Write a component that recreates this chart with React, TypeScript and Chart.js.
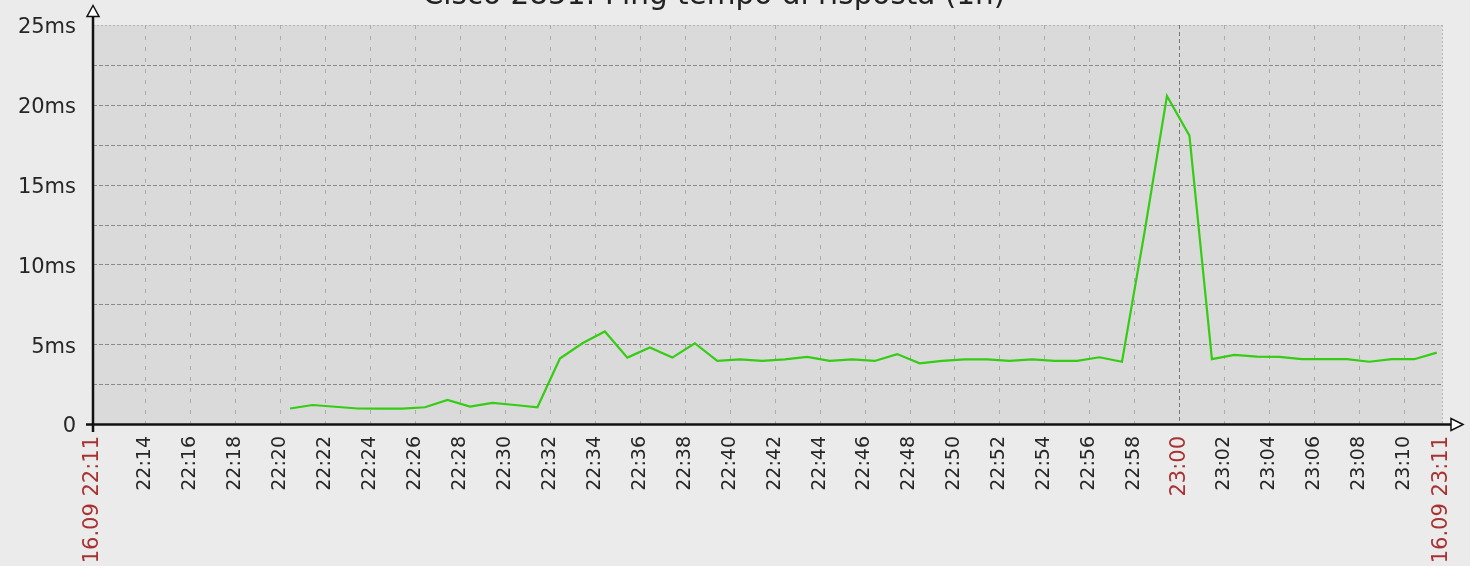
import React, { useEffect, useRef } from "react";
import { Chart, registerables } from "chart.js";

Chart.register(...registerables);

const TITLE = "Cisco 2851: Ping tempo di risposta (1h)";
const RANGE_START = "22:11:41";
const RANGE_END = "23:11:41";

const SAMPLE_TIMES = [
  "22:20:27", "22:21:27", "22:22:27", "22:23:27", "22:24:27", "22:25:27", "22:26:27", "22:27:27", "22:28:27", "22:29:27",
  "22:30:27", "22:31:27", "22:32:27", "22:33:27", "22:34:27", "22:35:27", "22:36:27", "22:37:27", "22:38:27", "22:39:27",
  "22:40:27", "22:41:27", "22:42:27", "22:43:27", "22:44:27", "22:45:27", "22:46:27", "22:47:27", "22:48:27", "22:49:27",
  "22:50:27", "22:51:27", "22:52:27", "22:53:27", "22:54:27", "22:55:27", "22:56:27", "22:57:27", "22:58:27", "22:59:27",
  "23:00:27", "23:01:27", "23:02:27", "23:03:27", "23:04:27", "23:05:27", "23:06:27", "23:07:27", "23:08:27", "23:09:27",
  "23:10:27", "23:11:27",
];

const PING_MS = [
  0.97, 1.19, 1.08, 0.97, 0.96, 0.96, 1.05, 1.51, 1.09, 1.32,
  1.19, 1.05, 4.1, 5.06, 5.8, 4.16, 4.8, 4.16, 5.06, 3.95,
  4.05, 3.95, 4.05, 4.2, 3.95, 4.05, 3.95, 4.38, 3.8, 3.95,
  4.05, 4.05, 3.95, 4.05, 3.95, 3.95, 4.18, 3.9, 12.0, 20.55,
  18.07, 4.06, 4.33, 4.22, 4.2, 4.06, 4.06, 4.06, 3.9, 4.06,
  4.06, 4.47,
];

const X_TICK_TIMES = [
  "22:11:41", "22:14", "22:16", "22:18", "22:20", "22:22", "22:24", "22:26", "22:28", "22:30",
  "22:32", "22:34", "22:36", "22:38", "22:40", "22:42", "22:44", "22:46", "22:48", "22:50",
  "22:52", "22:54", "22:56", "22:58", "23:00", "23:02", "23:04", "23:06", "23:08", "23:10",
  "23:11:41",
];
const X_TICK_LABELS = [
  "16.09 22:11", "22:14", "22:16", "22:18", "22:20", "22:22", "22:24", "22:26", "22:28", "22:30",
  "22:32", "22:34", "22:36", "22:38", "22:40", "22:42", "22:44", "22:46", "22:48", "22:50",
  "22:52", "22:54", "22:56", "22:58", "23:00", "23:02", "23:04", "23:06", "23:08", "23:10",
  "16.09 23:11",
];
const X_RED_LABELS = ["16.09 22:11", "23:00", "16.09 23:11"];

const Y_TICK_VALUES = [0, 2.5, 5, 7.5, 10, 12.5, 15, 17.5, 20, 22.5, 25];
const Y_TICK_LABELS = ["0", "", "5ms", "", "10ms", "", "15ms", "", "20ms", "", "25ms"];

function toMin(t: string): number {
  const p = t.split(":").map(Number);
  return (p[0] - 22) * 60 + p[1] + (p[2] || 0) / 60;
}

const FONT = '"DejaVu Sans", sans-serif';
const RED = "#a83232";
const DARK = "#262626";

const zeroPadding = (scale: any) => {
  scale.paddingLeft = 0;
  scale.paddingRight = 0;
  scale.paddingTop = 0;
  scale.paddingBottom = 0;
};

const decorPlugin = {
  id: "decor",
  beforeDraw(chart: any) {
    const { ctx, chartArea: a, width, height } = chart;
    ctx.save();
    ctx.fillStyle = "#ebebeb";
    ctx.fillRect(0, 0, width, height);
    ctx.fillStyle = "#dadada";
    ctx.fillRect(a.left, a.top, a.right - a.left, a.bottom - a.top);
    ctx.font = `29.5px ${FONT}`;
    ctx.fillStyle = "#222";
    ctx.textAlign = "center";
    ctx.textBaseline = "alphabetic";
    ctx.fillText(TITLE, 714, 3.5);
    ctx.restore();
  },
  beforeDatasetsDraw(chart: any) {
    const { ctx, chartArea: a } = chart;
    const xs = chart.scales.x;
    const ys = chart.scales.y;
    ctx.save();
    ctx.lineWidth = 1;
    const line = (x1: number, y1: number, x2: number, y2: number) => {
      ctx.beginPath();
      ctx.moveTo(x1, y1);
      ctx.lineTo(x2, y2);
      ctx.stroke();
    };
    xs.ticks.forEach((t: any, i: number) => {
      if (i === 0) return;
      const x = Math.round(xs.getPixelForValue(t.value)) + 0.5;
      const lbl = X_TICK_LABELS[i];
      if (i === xs.ticks.length - 1) {
        ctx.strokeStyle = "#b4b4b4";
        ctx.setLineDash([2, 2]);
      } else if (X_RED_LABELS.includes(lbl)) {
        ctx.strokeStyle = "#787878";
        ctx.setLineDash([4, 3]);
      } else {
        ctx.strokeStyle = "#acacac";
        ctx.setLineDash([4, 7]);
      }
      line(x, a.top, x, a.bottom);
    });
    ys.ticks.forEach((t: any) => {
      if (t.value === 0) return;
      const y = Math.round(ys.getPixelForValue(t.value)) + 0.5;
      if (t.value === ys.max) {
        ctx.strokeStyle = "#b4b4b4";
        ctx.setLineDash([2, 2]);
      } else {
        ctx.strokeStyle = "#8a8a8a";
        ctx.setLineDash([4, 2]);
      }
      line(a.left, y, a.right, y);
    });
    ctx.restore();
  },
  afterDatasetsDraw(chart: any) {
    const { ctx, chartArea: a } = chart;
    ctx.save();
    ctx.setLineDash([]);
    ctx.strokeStyle = "#111";
    ctx.lineWidth = 2.5;
    ctx.beginPath();
    ctx.moveTo(a.left, a.bottom + 8);
    ctx.lineTo(a.left, 14);
    ctx.stroke();
    ctx.beginPath();
    ctx.moveTo(a.left - 7, a.bottom + 0.5);
    ctx.lineTo(1452, a.bottom + 0.5);
    ctx.stroke();
    ctx.lineWidth = 1.5;
    ctx.fillStyle = "#ffffff";
    ctx.beginPath();
    ctx.moveTo(a.left, 5.5);
    ctx.lineTo(a.left - 6, 16.5);
    ctx.lineTo(a.left + 6, 16.5);
    ctx.closePath();
    ctx.fill();
    ctx.stroke();
    ctx.beginPath();
    ctx.moveTo(1463, a.bottom + 0.5);
    ctx.lineTo(1451, a.bottom - 5.5);
    ctx.lineTo(1451, a.bottom + 6.5);
    ctx.closePath();
    ctx.fill();
    ctx.stroke();
    ctx.restore();
  },
};

export default function App() {
  const ref = useRef<HTMLCanvasElement>(null);
  useEffect(() => {
    const canvas = ref.current;
    if (!canvas) return;
    const chart = new Chart(canvas, {
      type: "line",
      data: {
        datasets: [
          {
            label: "Ping",
            data: SAMPLE_TIMES.map((t, i) => ({ x: toMin(t), y: PING_MS[i] })),
            borderColor: "#35cc14",
            borderWidth: 2.2,
            pointRadius: 0,
            tension: 0,
            fill: false,
          },
        ],
      },
      options: {
        animation: false,
        responsive: false,
        devicePixelRatio: 1,
        layout: { padding: { top: 25, right: 28, left: 0, bottom: 0 } },
        plugins: {
          legend: { display: false },
          tooltip: { enabled: false },
          title: { display: false },
        },
        scales: {
          x: {
            type: "linear",
            min: toMin(RANGE_START),
            max: toMin(RANGE_END),
            grid: { display: false, drawTicks: false },
            border: { display: false },
            afterBuildTicks: (scale: any) => {
              scale.ticks = X_TICK_TIMES.map((t) => ({ value: toMin(t) }));
            },
            afterFit: (scale: any) => {
              scale.height = 142;
              zeroPadding(scale);
            },
            ticks: {
              autoSkip: false,
              maxRotation: 90,
              minRotation: 90,
              padding: 12,
              font: (c: any) => ({
                family: FONT,
                size: X_RED_LABELS.includes(X_TICK_LABELS[c.index]) ? 21 : 19,
              }),
              color: (c: any) => (X_RED_LABELS.includes(X_TICK_LABELS[c.index]) ? RED : DARK),
              callback: (_v: any, i: number) => X_TICK_LABELS[i],
            },
          },
          y: {
            type: "linear",
            min: 0,
            max: 25,
            grid: { display: false, drawTicks: false },
            border: { display: false },
            afterBuildTicks: (scale: any) => {
              scale.ticks = Y_TICK_VALUES.map((v) => ({ value: v }));
            },
            afterFit: (scale: any) => {
              scale.width = 93;
              zeroPadding(scale);
            },
            ticks: {
              padding: 17,
              labelOffset: 3,
              font: { family: FONT, size: 21 },
              color: DARK,
              callback: (_v: any, i: number) => Y_TICK_LABELS[i],
            },
          },
        },
      },
      plugins: [decorPlugin],
    } as any);
    return () => chart.destroy();
  }, []);
  return (
    <div style={{ position: "fixed", left: 0, top: 0, width: 1470, height: 566, background: "#ebebeb" }}>
      <canvas ref={ref} width={1470} height={566} style={{ display: "block", width: 1470, height: 566 }} />
    </div>
  );
}
